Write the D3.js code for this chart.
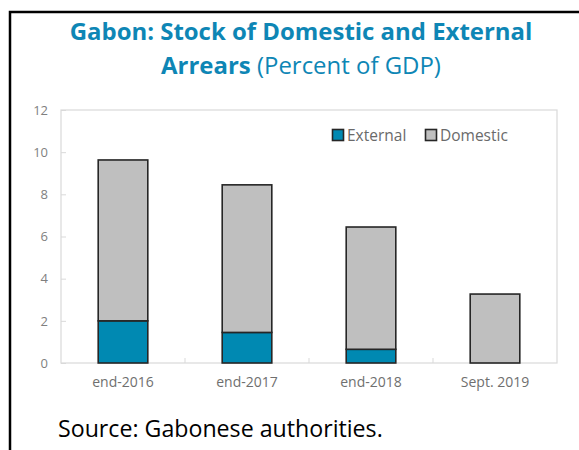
<!DOCTYPE html>
<html>
<head>
<meta charset="utf-8">
<script src="https://cdn.jsdelivr.net/npm/d3@7/dist/d3.min.js"></script>
<style>
  html, body { margin: 0; padding: 0; background: #fff; }
  svg { display: block; }
</style>
</head>
<body>
<svg id="chart" width="579" height="450"></svg>
<script>
const categories = ["end-2016", "end-2017", "end-2018", "Sept. 2019"];
const external = [2.0, 1.45, 0.65, 0.0];
const domestic = [7.63, 7.0, 5.8, 3.27];
const seriesNames = ["External", "Domestic"];
const seriesColors = ["#0089b2", "#bfbfbf"];
const yTicks = [0, 2, 4, 6, 8, 10, 12];

const svg = d3.select("#chart");
const FONT = "'Open Sans', 'Noto Sans', sans-serif";

// outer frame (left + top)
svg.append("path")
  .attr("d", "M10,450V12H579")
  .attr("fill", "none")
  .attr("stroke", "#000")
  .attr("stroke-width", 2.5);

// title
const titleColor = "#0e86b5";
function fitText(sel, width) {
  const len = sel.node().getComputedTextLength();
  const fs = parseFloat(sel.attr("font-size"));
  sel.attr("font-size", fs * width / len);
}
const t1 = svg.append("text")
  .attr("x", 301).attr("y", 40)
  .attr("text-anchor", "middle")
  .attr("font-family", FONT).attr("font-weight", 700)
  .attr("font-size", 22).attr("fill", titleColor)
  .text("Gabon: Stock of Domestic and External");
fitText(t1, 463);
const t2 = svg.append("text")
  .attr("x", 301).attr("y", 74)
  .attr("text-anchor", "middle")
  .attr("font-family", FONT)
  .attr("font-size", t1.attr("font-size")).attr("fill", titleColor);
t2.append("tspan").attr("font-weight", 700).text("Arrears");
t2.append("tspan").attr("font-weight", 400).text(" (Percent of GDP)");

// plot area
const plot = { left: 61, right: 557, top: 110, bottom: 363 };
const x = d3.scaleBand().domain(categories)
  .range([plot.left, plot.right]).paddingInner(0.6).paddingOuter(0.3);
const y = d3.scaleLinear().domain([0, 12]).range([plot.bottom, plot.top]);

const axisColor = "#d9d9d9";
svg.append("rect")
  .attr("x", plot.left).attr("y", plot.top)
  .attr("width", plot.right - plot.left).attr("height", plot.bottom - plot.top)
  .attr("fill", "none").attr("stroke", axisColor).attr("stroke-width", 1.2);

// y axis
const yAxis = svg.append("g")
  .attr("transform", `translate(${plot.left},0)`)
  .call(d3.axisLeft(y).tickValues(yTicks).tickSize(-5).tickPadding(13));
yAxis.select(".domain").remove();
yAxis.selectAll(".tick line").attr("stroke", axisColor);
yAxis.selectAll(".tick text")
  .attr("font-family", FONT).attr("font-size", 13).attr("fill", "#7f7f7f");

// x axis
const xAxis = svg.append("g")
  .attr("transform", `translate(0,${plot.bottom})`)
  .call(d3.axisBottom(x).tickSize(0).tickPadding(14));
xAxis.select(".domain").remove();
xAxis.selectAll(".tick text")
  .attr("font-family", FONT).attr("font-size", 14).attr("fill", "#6f6f6f");

// category dividers
const step = x.step();
const dividers = categories.slice(0, -1).map(c => x(c) + x.bandwidth() + (step - x.bandwidth()) / 2);
svg.append("g").selectAll("line").data(dividers).join("line")
  .attr("x1", d => d).attr("x2", d => d)
  .attr("y1", plot.bottom).attr("y2", plot.bottom - 5)
  .attr("stroke", axisColor);

// stacked bars
const rows = categories.map((c, i) => ({ cat: c, External: external[i], Domestic: domestic[i] }));
const stack = d3.stack().keys(seriesNames)(rows);
const color = d3.scaleOrdinal().domain(seriesNames).range(seriesColors);

svg.append("g").selectAll("g").data(stack).join("g")
  .attr("fill", d => color(d.key))
  .selectAll("rect").data(d => d.filter(p => p[1] - p[0] > 0)).join("rect")
  .attr("x", d => x(d.data.cat))
  .attr("width", x.bandwidth())
  .attr("y", d => y(d[1]))
  .attr("height", d => y(d[0]) - y(d[1]))
  .attr("stroke", "#262626")
  .attr("stroke-width", 1.6);

// legend
const legendItems = [
  { name: "External", x: 332 },
  { name: "Domestic", x: 425 }
];
const lg = svg.append("g").selectAll("g").data(legendItems).join("g")
  .attr("transform", d => `translate(${d.x},129)`);
lg.append("rect")
  .attr("x", 0.5).attr("y", 0.5).attr("width", 11).attr("height", 11)
  .attr("fill", d => color(d.name)).attr("stroke", "#262626").attr("stroke-width", 1.6);
lg.append("text")
  .attr("x", 15).attr("y", 12)
  .attr("font-family", FONT).attr("font-size", 15.5).attr("fill", "#6a6a6a")
  .text(d => d.name);

// source
const src = svg.append("text")
  .attr("x", 58).attr("y", 437)
  .attr("font-family", FONT).attr("font-size", 20).attr("fill", "#000")
  .text("Source: Gabonese authorities.");
fitText(src, 325);
</script>
</body>
</html>
